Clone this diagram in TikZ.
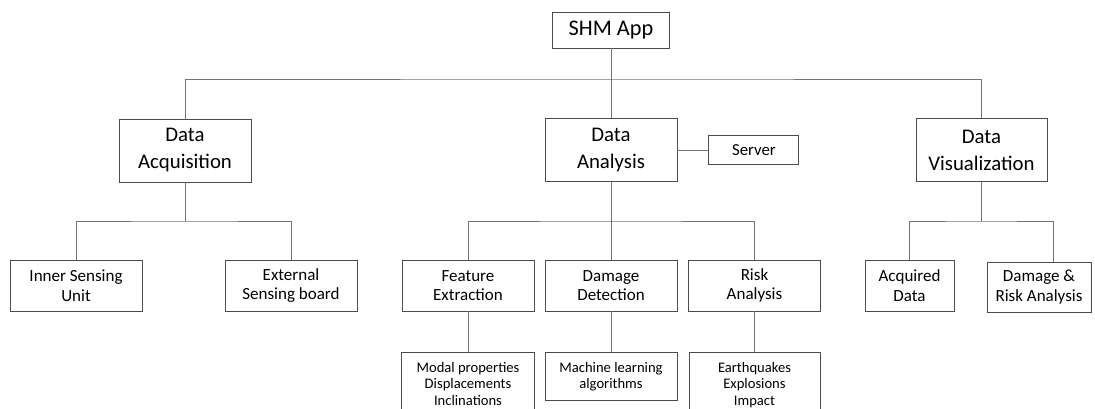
\documentclass[tikz,border=0pt]{standalone}
\usepackage{fontspec}
\setmainfont{Carlito}
\usepackage{tikz}
\usetikzlibrary{positioning}

\begin{document}
\begin{tikzpicture}[x=1pt,y=-1pt,node distance=31pt]
  \tikzset{box/.style={draw=black!70, line width=0.9pt, align=center, inner sep=2pt},
           topbox/.style={box, minimum width=117pt, minimum height=36pt, font=\fontsize{22.3}{26}\selectfont},
           mainbox/.style={box, minimum width=132pt, minimum height=63pt, font=\fontsize{20.8}{27}\selectfont},
           subbox/.style={box, minimum width=132pt, minimum height=51pt, font=\fontsize{17}{19.5}\selectfont},
           leafbox/.style={box, minimum width=133pt, inner ysep=9pt, font=\fontsize{14.6}{16.5}\selectfont},
           wire/.style={draw=black!55, line width=0.9pt}}
  \useasboundingbox (0,0) rectangle (1095,409);
  \clip (0,0) rectangle (1095,409);
  % top and first level
  \node[topbox] (app) at (611,30) {SHM App};
  \node[mainbox] (acq) at (185,150.5) {Data\\Acquisition};
  \node[mainbox] (ana) at (611,150) {Data\\Analysis};
  \node[mainbox, minimum width=131pt] (vis) at (981.5,150) {Data\\Visualization};
  \node[box, minimum width=90pt, minimum height=29pt, font=\fontsize{16.8}{19}\selectfont] (srv) [right=of ana] {Server};
  % second level
  \node[subbox] (inner) at (76,285.5) {Inner Sensing\\Unit};
  \node[subbox] (ext) at (291,285.5) {External\\Sensing board};
  \node[subbox] (feat) at (468,285.5) {Feature\\Extraction};
  \node[subbox] (dmg) at (611,285.5) {Damage\\Detection};
  \node[subbox] (risk) at (754.5,285.5) {Risk\\Analysis};
  \node[subbox, minimum width=89pt] (acqd) at (909.5,285.5) {Acquired\\Data};
  \node[subbox, minimum width=104pt, minimum height=50pt] (dra) at (1039,287) {Damage \&\\Risk Analysis};
  % third level
  \node[leafbox] (modal) [below=41pt of feat] {Modal properties\\Displacements\\Inclinations};
  \node[leafbox, minimum width=132pt] (ml) [below=41pt of dmg] {Machine learning\\algorithms};
  \node[leafbox, minimum width=131pt] (eq) [below=41pt of risk] {Earthquakes\\Explosions\\Impact};
  % connectors
  \coordinate (topbus) at (611,79);
  \coordinate (acqbus) at (185,221);
  \coordinate (anabus) at (611,221);
  \coordinate (visbus) at (981.5,221);
  \draw[wire] (app) -- (ana);
  \draw[wire] (acq) |- (topbus) -| (vis);
  \draw[wire] (ana) -- (srv);
  \draw[wire] (acq) -- (acqbus);
  \draw[wire] (inner) |- (acqbus) -| (ext);
  \draw[wire] (ana) -- (dmg);
  \draw[wire] (feat) |- (anabus) -| (risk);
  \draw[wire] (vis) -- (visbus);
  \draw[wire] (acqd) |- (visbus) -| ([xshift=14pt]dra.north);
  \draw[wire] (feat) -- (modal);
  \draw[wire] (dmg) -- (ml);
  \draw[wire] (risk) -- (eq);
\end{tikzpicture}
\end{document}
